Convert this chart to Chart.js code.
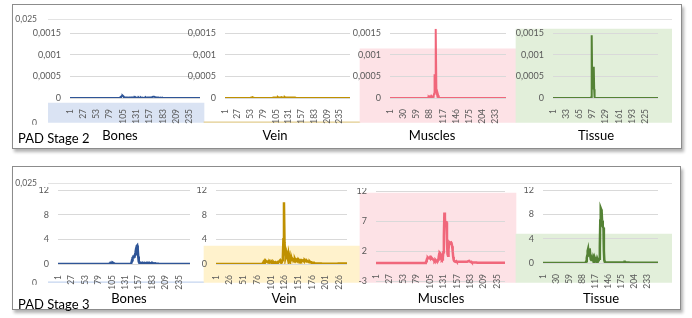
<!DOCTYPE html>
<html>
<head>
<meta charset="utf-8">
<script src="https://cdn.jsdelivr.net/npm/chart.js@4.4.0/dist/chart.umd.min.js"></script>
<style>
  html, body { margin: 0; padding: 0; background: #fff; }
  #stage { position: relative; width: 692px; height: 318px; overflow: hidden; font-family: Lato, 'Open Sans', sans-serif; }
  .panel { position: absolute; background: #fff; border: 1.5px solid #8c8c8c; box-sizing: border-box; box-shadow: 2px 3px 3px rgba(0,0,0,0.3); }
  canvas { position: absolute; }
  .lbl { position: absolute; transform: translate(-50%, -50%); white-space: nowrap; font-size: 13px; color: #000; line-height: 1; }
  .stage-lbl { position: absolute; transform: translateY(-50%); white-space: nowrap; font-size: 13px; color: #000; line-height: 1; }
</style>
</head>
<body>
<div id="stage">
  <div class="panel" style="left:12px;top:4px;width:670px;height:145px"></div>
  <div class="panel" style="left:12px;top:166px;width:669px;height:144px"></div>
</div>
<script>
const FONT = 'Lato, "Open Sans", sans-serif';

const TISSUES = ['Bones', 'Vein', 'Muscles', 'Tissue'];
const STAGES = ['PAD Stage 2', 'PAD Stage 3'];
const LINE_COLORS = ['#2f5597', '#bf9000', '#f0677b', '#548235'];

// background columns, scale 0 .. 0,025
const BG_TICKS = [0, 0.025];
const BG_STAGE2 = [0.0048, 0.0003, 0.0178, 0.0226];
const BG_STAGE3 = [0.0003, 0.0092, 0.0225, 0.0122];
const BG_COLORS_STAGE2 = ['#dae3f3', '#e2cc8e', '#fde2e6', '#e2efda'];
const BG_COLORS_STAGE3 = ['#c5d5ef', '#fff2cc', '#fde2e6', '#e2efda'];

// y ticks of the small charts
const STAGE2_TICKS = [0, 0.0005, 0.001, 0.0015];
const STAGE3_TICKS = [0, 4, 8, 12];
const MUSCLE3_TICKS = [-3, 2, 7, 12];

// every n-th category label shown
const STAGE2_STEPS = [26, 26, 29, 32];
const STAGE3_STEPS = [26, 25, 26, 29];

// PAD stage 2 series (256 slices each)
const S2_BONES = [
  0,0,0,0,0,0,0,0,0,0,0,0,0,0,0,0,
  0,0,0,0,0,0,0,0,0,0,0,0,0,0,0,0,
  0,0,0,0,0,0,0,0,0,0,0,0,0,0,0,0,
  0,0,0,0,0,0,0,0,0,0,0,0,0,0,0,0,
  0,0,0,0,0,0,0,0,0,0,0,0,0,0,0,0,
  0,0,0,0,0,0,0,0,0,0,0,0,0,0,0,0,
  0,0,1e-5,2e-5,3e-5,4e-5,5e-5,6e-5,5e-5,3e-5,2e-5,1e-5,1e-5,1e-5,1e-5,1e-5,
  1e-5,0,1e-5,1e-5,0,1e-5,1e-5,0,1e-5,0,1e-5,0,1e-5,0,0,1e-5,
  0,1e-5,0,0,1e-5,0,0,1e-5,0,0,0,1e-5,0,0,1e-5,0,
  0,0,1e-5,0,0,1e-5,0,0,1e-5,1e-5,0,1e-5,1e-5,1e-5,1e-5,1e-5,
  1e-5,2e-5,2e-5,3e-5,3e-5,3e-5,3e-5,2e-5,2e-5,1e-5,1e-5,1e-5,0,1e-5,0,0,
  0,1e-5,0,0,0,1e-5,0,0,0,0,0,0,0,0,0,0,
  0,0,0,0,0,0,0,0,0,0,0,0,0,0,0,0,
  0,0,0,0,0,0,0,0,0,0,0,0,0,0,0,0,
  0,0,0,0,0,0,0,0,0,0,0,0,0,0,0,0,
  0,0,0,0,0,0,0,0,0,0,0,0,0,0,0,0
];
const S2_VEIN = [
  0,0,0,0,0,0,0,0,0,0,0,0,0,0,0,0,
  0,0,0,0,0,0,0,0,0,0,0,0,0,0,0,0,
  0,0,0,0,0,0,0,0,0,0,0,0,0,0,0,0,
  0,0,0,0,0,0,1e-5,1e-5,2e-5,2e-5,1e-5,1e-5,0,0,0,0,
  0,0,0,0,0,0,0,0,0,0,0,0,0,0,0,0,
  0,0,0,0,0,0,0,0,0,0,0,0,0,0,0,0,
  0,0,0,1e-5,1e-5,1e-5,1e-5,2e-5,1e-5,1e-5,1e-5,1e-5,2e-5,1e-5,1e-5,1e-5,
  1e-5,1e-5,1e-5,2e-5,2e-5,1e-5,1e-5,1e-5,1e-5,1e-5,2e-5,1e-5,1e-5,1e-5,1e-5,1e-5,
  1e-5,1e-5,1e-5,1e-5,1e-5,1e-5,1e-5,1e-5,1e-5,1e-5,1e-5,1e-5,1e-5,1e-5,1e-5,1e-5,
  1e-5,0,0,0,0,0,0,0,0,0,0,0,0,0,0,0,
  0,0,0,0,0,0,0,0,0,0,0,0,0,0,0,0,
  0,0,0,0,0,0,0,0,0,0,0,0,0,0,0,0,
  0,0,0,0,0,0,0,0,0,0,0,0,0,0,0,0,
  0,0,0,0,0,0,0,0,0,0,0,0,0,0,0,0,
  0,0,0,0,0,0,0,0,0,0,0,0,0,0,0,0,
  0,0,0,0,0,0,0,0,0,0,0,0,0,0,0,0
];
const S2_MUSCLES = [
  0,0,0,0,0,0,0,0,0,0,0,0,0,0,0,0,
  0,0,0,0,0,0,0,0,0,0,0,0,0,0,0,0,
  0,0,0,0,0,0,0,0,0,0,0,0,0,0,0,0,
  0,0,0,0,0,0,0,0,0,0,0,0,0,0,0,0,
  0,0,0,0,0,0,0,0,0,0,0,0,0,0,0,0,
  0,0,0,1e-5,2e-5,3e-5,2e-5,3e-5,4e-5,3e-5,2e-5,3e-5,4e-5,3e-5,2e-5,3e-5,
  5e-5,1e-4,5.5e-4,4e-4,1.5e-4,1.6e-3,1.5e-4,1e-4,8e-5,1e-4,6e-5,3e-5,1e-5,0,0,0,
  0,0,0,0,0,0,0,0,0,0,0,0,0,0,0,0,
  0,0,0,0,0,0,0,0,0,0,0,0,0,0,0,0,
  0,0,0,0,0,0,0,0,0,0,0,0,0,0,0,0,
  0,0,0,0,0,0,0,0,0,0,0,0,0,0,0,0,
  0,0,0,0,0,0,0,0,0,0,0,0,0,0,0,0,
  0,0,0,0,0,0,0,0,0,0,0,0,0,0,0,0,
  0,0,0,0,0,0,0,0,0,0,0,0,0,0,0,0,
  0,0,0,0,0,0,0,0,0,0,0,0,0,0,0,0,
  0,0,0,0,0,0,0,0,0,0,0,0,0,0,0,0
];
const S2_TISSUE = [
  0,0,0,0,0,0,0,0,0,0,0,0,0,0,0,0,
  0,0,0,0,0,0,0,0,0,0,0,0,0,0,0,0,
  0,0,0,0,0,0,0,0,0,0,0,0,0,0,0,0,
  0,0,0,0,0,0,0,0,0,0,0,0,0,0,0,0,
  0,0,0,0,0,0,0,0,0,0,0,0,0,0,0,0,
  0,0,0,0,0,0,0,0,0,0,0,0,1e-5,2e-5,1.45e-3,6e-4,
  3e-4,2e-4,5e-4,7.2e-4,2e-4,2e-5,0,0,0,0,0,0,0,0,0,0,
  0,0,0,0,0,0,0,0,0,0,0,0,0,0,0,0,
  0,0,0,0,0,0,0,0,0,0,0,0,0,0,0,0,
  0,0,0,0,0,0,0,0,0,0,0,0,0,0,0,0,
  0,0,0,0,0,0,0,0,0,0,0,0,0,0,0,0,
  0,0,0,0,0,0,0,0,0,0,0,0,0,0,0,0,
  0,0,0,0,0,0,0,0,0,0,0,0,0,0,0,0,
  0,0,0,0,0,0,0,0,0,0,0,0,0,0,0,0,
  0,0,0,0,0,0,0,0,0,0,0,0,0,0,0,0,
  0,0,0,0,0,0,0,0,0,0,0,0,0,0,0,0
];

// PAD stage 3 series
const S3_BONES = [
  0,0,0,0,0,0,0,0,0,0,0,0,0,0,0,0,
  0,0,0,0,0,0,0,0,0,0,0,0,0,0,0,0,
  0,0,0,0,0,0,0,0,0,0,0,0,0,0,0,0,
  0,0,0,0,0,0,0,0,0,0,0,0,0,0,0,0,
  0,0,0,0,0,0,0,0,0,0,0,0,0,0,0,0,
  0,0,0,0,0,0,0,0,0,0,0,0,0,0,0,0,
  0,0,0,0,0.1,0.15,0.2,0.2,0.15,0.15,0.2,0.15,0.1,0.05,0,0,
  0,0,0,0,0,0,0,0,0,0,0,0,0,0,0,0,
  0,0,0,0,0,0,0,0,0,0,0,0,0,0.1,0.2,0.6,
  1.0,1.1,1.2,1.2,1.3,1.6,2.0,2.5,2.9,3.0,2.4,1.2,0.4,0.2,0.15,0.2,
  0.15,0.1,0.15,0.2,0.15,0.1,0.15,0.2,0.2,0.15,0.1,0.15,0.2,0.15,0.1,0.15,
  0.2,0.15,0.1,0.1,0.15,0.1,0.1,0.15,0.1,0.1,0.1,0.05,0.1,0.05,0.05,0.05,
  0.05,0.05,0.05,0,0,0,0,0,0,0,0,0,0,0,0,0,
  0,0,0,0,0,0,0,0,0,0,0,0,0,0,0,0,
  0,0,0,0,0,0,0,0,0,0,0,0,0,0,0,0,
  0,0,0,0,0,0,0,0,0,0,0,0,0,0,0,0
];
const S3_VEIN = [
  0,0,0,0,0,0,0,0,0,0,0,0,0,0,0,0,
  0,0,0,0,0,0,0,0,0,0,0,0,0,0,0,0,
  0,0,0,0,0,0,0,0,0,0,0,0,0,0,0,0,
  0,0,0,0,0,0,0,0,0,0,0,0,0,0,0,0,
  0,0,0,0,0,0,0,0,0,0,0,0,0,0,0,0,
  0,0,0,0,0,0,0.2,0.4,0.5,0.4,0.4,0.5,0.4,0.4,0.3,0.4,
  0.3,0.3,0.4,0.3,0.3,0.2,0.3,0.2,0.2,0.3,0.2,0.2,0.3,0.2,0.2,0.2,
  0.3,0.2,0.3,0.4,0.5,0.6,0.4,0.3,0.4,0.6,1.0,4.0,10.0,3.5,2.0,1.2,
  1.6,0.8,1.3,0.9,1.5,0.7,1.2,0.8,1.0,0.7,0.9,0.6,0.8,0.7,0.6,0.7,
  0.8,0.6,0.7,0.6,0.7,0.6,0.6,0.7,0.6,0.5,0.6,0.5,0.6,0.5,0.5,0.6,
  0.5,0.5,0.6,0.5,0.5,0.4,0.5,0.4,0.4,0.4,0.3,0.4,0.3,0.3,0.3,0.2,
  0.2,0.2,0.2,0.2,0.1,0.1,0.1,0.1,0.1,0.1,0.1,0.1,0.1,0.1,0.1,0.1,
  0.1,0.05,0.05,0.05,0.05,0.05,0.05,0.05,0.05,0.05,0.05,0.05,0.05,0.05,0.05,0.05,
  0.05,0.05,0.05,0.05,0.05,0.05,0.05,0.05,0.05,0.05,0.05,0.05,0.05,0.05,0.05,0.05,
  0.1,0.1,0.1,0.1,0.1,0.1,0.1,0.1,0.1,0.1,0.1,0.1,0.1,0.1,0.1,0.1
];
const S3_MUSCLES = [
  0,0,0,0,0,0,0,0,0,0,0,0,0,0,0,0,
  0,0,0,0,0,0,0,0,0,0,0,0,0,0,0,0,
  0,0,0,0,0,0,0,0,0,0,0,0,0,0,0,0,
  0,0,0,0,0,0,0,0,0,0,0,0,0,0,0,0,
  0,0,0,0,0,0,0,0,0,0,0,0,0,0,0,0,
  0,0,0,0,0,0,0,0,0,0,0,0,0,0,0,0,
  0.1,0.3,0.6,0.8,0.9,0.8,0.8,0.9,0.8,0.7,0.8,0.7,0.8,0.7,0.6,0.5,
  0.4,0.3,0.4,0.5,0.4,0.3,0.3,0.4,0.6,1.0,1.5,1.7,1.6,0.9,0.6,0.5,
  0.6,0.9,1.8,4.5,8.4,7.5,6.2,6.8,6.8,3.5,1.5,1.2,2.2,3.2,3.4,3.3,
  3.3,3.4,3.2,2.8,2.0,1.0,0.5,0.3,0.3,0.2,0.2,0.3,0.2,0.2,0.2,0.2,
  0.2,0.2,0.2,0.2,0.2,0.2,0.2,0.2,0.2,0.2,0.2,0.2,0.2,0.2,0.2,0.2,
  0.2,0.2,0.3,0.3,0.35,0.3,0.2,0.2,0.2,0.1,0.1,0.1,0.1,0.1,0.1,0.1,
  0.1,0.1,0.1,0.05,0.05,0.05,0.05,0.05,0.05,0.05,0.05,0.05,0.05,0.05,0.05,0.05,
  0.05,0.05,0.05,0.05,0.05,0.05,0.05,0.05,0.05,0.05,0.05,0.05,0.05,0.05,0.05,0.05,
  0.05,0.05,0.05,0.05,0.05,0.05,0.05,0.05,0.05,0.05,0.05,0.05,0.05,0.05,0.05,0.05,
  0.05,0.05,0.05,0.05,0.05,0.05,0.05,0.05,0.05,0.05
];
const S3_TISSUE = [
  0,0,0,0,0,0,0,0,0,0,0,0,0,0,0,0,
  0,0,0,0,0,0,0,0,0,0,0,0,0,0,0,0,
  0,0,0,0,0,0,0,0,0,0,0,0,0,0,0,0,
  0,0,0,0,0,0,0,0,0,0,0,0,0,0,0,0,
  0,0,0,0,0,0,0,0,0,0,0,0,0,0,0,0,
  0,0,0,0,0,0,0,0,0,0,0,0,0,0,0,0,
  0.3,0.8,1.2,2.0,2.3,1.6,1.4,2.2,2.4,1.0,0.6,0.5,0.8,0.6,0.5,0.9,
  0.6,0.5,1.0,0.8,0.5,0.6,0.7,0.5,0.8,0.6,0.5,0.6,0.5,0.7,2.5,7.0,
  9.0,8.8,8.5,7.0,6.0,6.0,5.8,2.0,0.4,0.2,0.1,0.1,0.1,0.1,0.1,0.1,
  0.1,0.1,0.1,0.1,0.1,0.1,0.1,0.1,0.1,0.1,0.1,0.1,0.1,0.1,0.1,0.1,
  0.1,0.1,0.1,0.1,0.1,0.1,0.1,0.1,0.1,0.1,0.1,0.1,0.1,0.1,0.1,0.1,
  0.1,0.1,0.1,0.1,0.15,0.2,0.2,0.15,0.1,0.1,0.1,0.1,0.1,0.1,0.1,0.1,
  0.05,0.05,0.05,0.05,0.05,0.05,0.05,0.05,0.05,0.05,0.05,0.05,0.05,0.05,0.05,0.05,
  0.05,0.05,0.05,0.05,0.05,0.05,0.05,0.05,0.05,0.05,0.05,0.05,0.05,0.05,0.05,0.05,
  0.05,0.05,0.05,0.05,0.05,0.05,0.05,0.05,0.05,0.05,0.05,0.05,0.05,0.05,0.05,0.05,
  0.05,0.05,0.05,0.05,0.05,0.05,0.05,0.05,0.05,0.05,0.05,0.05,0.05,0.05,0.05,0.05
];

// layout (plot areas in page pixels)
const BG_AREAS = [
  { x0: 48, x1: 672, y0: 19, y1: 123 },
  { x0: 48, x1: 672, y0: 183, y1: 283 },
];
const STAGE2_AREAS = [
  { x0: 70, x1: 200, y0: 28.7, y1: 98 },
  { x0: 225, x1: 350, y0: 28.7, y1: 98 },
  { x0: 390, x1: 506, y0: 28.7, y1: 98 },
  { x0: 553, x1: 658, y0: 28.7, y1: 98 },
];
const STAGE3_AREAS = [
  { x0: 58, x1: 190, y0: 190, y1: 264 },
  { x0: 216, x1: 347, y0: 190, y1: 264 },
  { x0: 376, x1: 505, y0: 191, y1: 281 },
  { x0: 543, x1: 658, y0: 190, y1: 263 },
];
const LABEL_X = [[120, 275, 432, 596], [129, 284, 441, 601]];
const LABEL_Y = [135, 298];
const STAGE_LABEL_Y = [138, 304];
const LINE_WIDTHS = [2, 2.5];

const stage = document.getElementById('stage');

function addCanvas(left, top, width, height) {
  const c = document.createElement('canvas');
  c.width = width;
  c.height = height;
  c.style.left = left + 'px';
  c.style.top = top + 'px';
  c.style.width = width + 'px';
  c.style.height = height + 'px';
  stage.appendChild(c);
  return c;
}

function fmt(v) {
  return String(v).replace('.', ',');
}

function bgChart(area, values, colors) {
  const left = area.x0 - 40, top = area.y0 - 4;
  const width = area.x1 + 4 - left, height = area.y1 + 2 - top;
  new Chart(addCanvas(left, top, width, height), {
    type: 'bar',
    data: {
      labels: TISSUES,
      datasets: [{ data: values, backgroundColor: colors, borderWidth: 0, barPercentage: 1, categoryPercentage: 1 }],
    },
    options: {
      responsive: false,
      animation: false,
      layout: { padding: { top: 4, right: 4, bottom: 2, left: 0 } },
      plugins: { legend: { display: false }, tooltip: { enabled: false } },
      scales: {
        x: { display: false },
        y: {
          min: 0, max: 0.025,
          afterBuildTicks: s => { s.ticks = BG_TICKS.map(v => ({ value: v })); },
          grid: { color: ctx => ctx.tick && ctx.tick.value === 0 ? 'rgba(0,0,0,0)' : '#e3e3e3', drawTicks: false },
          border: { display: false },
          ticks: { padding: 11, color: '#595959', font: { family: FONT, size: 8.5 }, callback: fmt },
          afterFit: s => { s.width = 40; s.paddingTop = 0; s.paddingBottom = 0; },
        },
      },
    },
  });
}

function lineChart(area, values, color, lineWidth, step, ticks, min, max, axisAtZero) {
  const left = area.x0 - 45, top = Math.floor(area.y0) - 3;
  const width = area.x1 + 4 - left, height = Math.ceil(area.y1) + 30 - top;
  const labels = values.map((_, i) => String(i + 1));
  new Chart(addCanvas(left, top, width, height), {
    type: 'line',
    data: {
      labels,
      datasets: [{ data: values, borderColor: color, borderWidth: lineWidth, pointRadius: 0, tension: 0, fill: false }],
    },
    options: {
      responsive: false,
      animation: false,
      layout: { padding: { top: area.y0 - top, right: 4, bottom: axisAtZero ? height - (area.y1 - top) : 0, left: 0 } },
      plugins: { legend: { display: false }, tooltip: { enabled: false } },
      scales: {
        x: {
          position: axisAtZero ? { y: 0 } : 'bottom',
          grid: { display: false },
          border: { display: false },
          ticks: {
            autoSkip: false, minRotation: 90, maxRotation: 90, padding: 3,
            color: '#595959', font: { family: FONT, size: 8.5 },
            callback: (v, i) => (i % step === 0 ? labels[i] : ''),
          },
          afterFit: s => { s.height = height - (area.y1 - top); s.paddingLeft = 0; s.paddingRight = 0; },
        },
        y: {
          min, max,
          afterBuildTicks: s => { s.ticks = ticks.map(v => ({ value: v })); },
          grid: { color: '#d9d9d9', drawTicks: false },
          border: { display: false },
          ticks: { padding: 9, color: '#595959', font: { family: FONT, size: 9 }, callback: fmt },
          afterFit: s => { s.width = 45; s.paddingTop = 0; s.paddingBottom = 0; },
        },
      },
    },
  });
}

function addText(cls, text, x, y) {
  const d = document.createElement('div');
  d.className = cls;
  d.textContent = text;
  d.style.left = x + 'px';
  d.style.top = y + 'px';
  stage.appendChild(d);
}

bgChart(BG_AREAS[0], BG_STAGE2, BG_COLORS_STAGE2);
bgChart(BG_AREAS[1], BG_STAGE3, BG_COLORS_STAGE3);

const stage2 = [S2_BONES, S2_VEIN, S2_MUSCLES, S2_TISSUE];
const stage3 = [S3_BONES, S3_VEIN, S3_MUSCLES, S3_TISSUE];

stage2.forEach((vals, i) => {
  lineChart(STAGE2_AREAS[i], vals, LINE_COLORS[i], LINE_WIDTHS[0], STAGE2_STEPS[i], STAGE2_TICKS, 0, 0.0016, false);
});
stage3.forEach((vals, i) => {
  const muscles = i === 2;
  lineChart(STAGE3_AREAS[i], vals, LINE_COLORS[i], LINE_WIDTHS[1], STAGE3_STEPS[i],
    muscles ? MUSCLE3_TICKS : STAGE3_TICKS, muscles ? -3 : 0, 12, muscles);
});

[0, 1].forEach(p => {
  TISSUES.forEach((name, i) => addText('lbl', name, LABEL_X[p][i], LABEL_Y[p]));
  addText('stage-lbl', STAGES[p], 18, STAGE_LABEL_Y[p]);
});
</script>
</body>
</html>
